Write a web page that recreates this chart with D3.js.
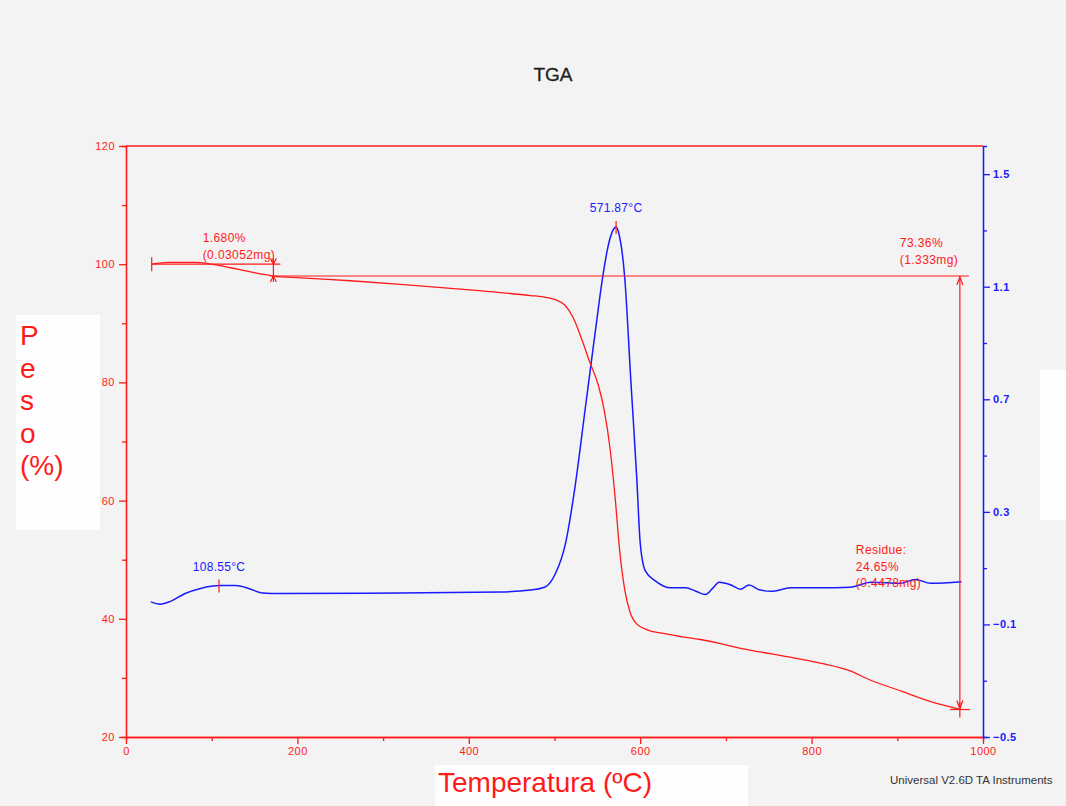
<!DOCTYPE html>
<html>
<head>
<meta charset="utf-8">
<script src="https://cdnjs.cloudflare.com/ajax/libs/d3/7.8.5/d3.min.js"></script>
<style>
  body { margin: 0; background: #f3f3f3; overflow: hidden; }
  text { font-family: "Liberation Sans", Arial, sans-serif; }
</style>
</head>
<body>
<div class="chart"></div>
<script>
// Data
// ==============================
// weight curve (red, left axis)
var tgaTemp = [30, 50, 80, 100, 122, 145, 172, 204, 262, 320, 379, 437, 472, 490, 501, 512, 522, 532, 541, 551, 558, 565, 571, 576, 582, 588, 596, 609, 624, 647, 670, 694, 717, 740, 775, 810, 845, 869, 904, 939, 975];
var tgaWeight = [100.0, 100.3, 100.3, 100.0, 99.4, 98.7, 98.0, 97.7, 97.2, 96.6, 95.9, 95.2, 94.7, 94.4, 94.0, 93.1, 90.9, 87.2, 83.5, 79.6, 75.3, 68.6, 60.1, 51.6, 44.9, 41.2, 39.1, 38.1, 37.6, 37.0, 36.5, 35.8, 35.0, 34.4, 33.5, 32.5, 31.2, 29.6, 27.8, 26.0, 24.65];

// derivative curve (blue, right axis)
var dtgTemp = [29, 40, 52, 69, 87, 110, 128, 143, 159, 180, 320, 437, 472, 489, 501, 513, 524, 536, 548, 556, 563, 569, 572, 575, 582, 589, 596, 600, 606, 618, 635, 653, 665, 676, 685, 692, 706, 717, 727, 740, 755, 775, 810, 845, 869, 904, 921, 939, 975];
var dtgValue = [-0.02, -0.028, -0.018, 0.01, 0.028, 0.038, 0.038, 0.028, 0.012, 0.01, 0.012, 0.015, 0.022, 0.033, 0.08, 0.19, 0.39, 0.67, 0.95, 1.13, 1.25, 1.305, 1.312, 1.29, 1.13, 0.77, 0.42, 0.19, 0.09, 0.054, 0.03, 0.03, 0.018, 0.006, 0.03, 0.05, 0.04, 0.025, 0.04, 0.022, 0.018, 0.03, 0.03, 0.032, 0.05, 0.046, 0.06, 0.046, 0.052];

// tick values
var xMajorTicks = [0, 200, 400, 600, 800, 1000];
var xMinorTicks = [100, 300, 500, 700, 900];
var yLeftMajorTicks = [20, 40, 60, 80, 100, 120];
var yLeftMinorTicks = [30, 50, 70, 90, 110];
var yRightMajorTicks = [-0.5, -0.1, 0.3, 0.7, 1.1, 1.5];
var yRightMinorTicks = [-0.3, 0.1, 0.5, 0.9, 1.3];

// annotations
var peakTemps = [108.55, 571.87];
var peakValues = [0.038, 1.312];
var peakLabels = ["108.55°C", "571.87°C"];
var stepStartTemp = 30;
var stepArrowTemp = 172;
var startWeight = 100.0;
var plateauWeight = 98.0;
var residueTemp = 973;
var residueWeight = 24.65;
var stepLabels = ["1.680%", "(0.03052mg)"];
var totalLabels = ["73.36%", "(1.333mg)"];
var residueLabels = ["Residue:", "24.65%", "(0.4478mg)"];

var RED = "#ff1a1a";
var BLUE = "#1a1aff";

// Set SVG dimensions
var svgWidth = 1066;
var svgHeight = 806;

var margin = {
  top: 146,
  right: 83,
  bottom: 69,
  left: 126
};

var width = svgWidth - margin.left - margin.right;
var height = svgHeight - margin.top - margin.bottom;

var svg = d3.select(".chart")
  .append("svg")
  .attr("width", svgWidth)
  .attr("height", svgHeight)
  .style("display", "block");

// background and white patches
svg.append("rect")
  .attr("width", svgWidth)
  .attr("height", svgHeight)
  .attr("fill", "#f3f3f3");

svg.append("rect").attr("x", 16).attr("y", 315).attr("width", 84).attr("height", 215).attr("fill", "#fefefe");
svg.append("rect").attr("x", 435).attr("y", 765).attr("width", 313).attr("height", 41).attr("fill", "#fefefe");
svg.append("rect").attr("x", 1040).attr("y", 370).attr("width", 26).attr("height", 150).attr("fill", "#fefefe");

// Title
svg.append("text")
  .attr("x", 553)
  .attr("y", 81)
  .attr("text-anchor", "middle")
  .attr("font-size", "19px")
  .attr("fill", "#1e1e1e")
  .attr("stroke", "#1e1e1e")
  .attr("stroke-width", 0.3)
  .text("TGA");

var chartGroup = svg.append("g")
  .attr("transform", `translate(${margin.left}, ${margin.top})`);

// Create scale functions
// ==============================
var xScale = d3.scaleLinear()
  .domain([0, 1000])
  .range([0, width]);

var yLeft = d3.scaleLinear()
  .domain([20, 120])
  .range([height, 0]);

var yRight = d3.scaleLinear()
  .domain([-0.5, 1.6])
  .range([height, 0]);

// Axes
// ==============================
function styleAxis(g, color, fontSize) {
  g.selectAll("path").attr("stroke", color).attr("stroke-width", 1.3);
  g.selectAll("line").attr("stroke", color).attr("stroke-width", 1.3);
  g.selectAll("text")
    .attr("fill", color)
    .attr("font-size", fontSize)
    .attr("letter-spacing", "0.5px")
    .attr("font-family", "'Liberation Sans', Arial, sans-serif");
}

// top border
chartGroup.append("line")
  .attr("x1", 0).attr("x2", width)
  .attr("y1", 0).attr("y2", 0)
  .attr("stroke", RED)
  .attr("stroke-width", 1.3);

var xAxisMinor = chartGroup.append("g")
  .attr("transform", `translate(0, ${height})`)
  .call(d3.axisBottom(xScale).tickValues(xMinorTicks).tickSize(4).tickFormat(""));
styleAxis(xAxisMinor, RED, "11px");

var xAxis = chartGroup.append("g")
  .attr("transform", `translate(0, ${height})`)
  .call(d3.axisBottom(xScale).tickValues(xMajorTicks).tickSize(7).tickSizeOuter(0).tickPadding(3)
    .tickFormat(d3.format("d")));
styleAxis(xAxis, RED, "11px");

var yLeftMinor = chartGroup.append("g")
  .call(d3.axisLeft(yLeft).tickValues(yLeftMinorTicks).tickSize(4).tickFormat(""));
styleAxis(yLeftMinor, RED, "11px");

var yLeftAxis = chartGroup.append("g")
  .call(d3.axisLeft(yLeft).tickValues(yLeftMajorTicks).tickSize(7).tickSizeOuter(0).tickPadding(4));
styleAxis(yLeftAxis, RED, "11px");

var yRightMinor = chartGroup.append("g")
  .attr("transform", `translate(${width}, 0)`)
  .call(d3.axisRight(yRight).tickValues(yRightMinorTicks).tickSize(4).tickFormat(""));
styleAxis(yRightMinor, BLUE, "11px");

var yRightAxis = chartGroup.append("g")
  .attr("transform", `translate(${width}, 0)`)
  .call(d3.axisRight(yRight).tickValues(yRightMajorTicks).tickSize(7).tickSizeOuter(0).tickPadding(3)
    .tickFormat(d3.format(".1f")));
styleAxis(yRightAxis, BLUE, "11px");
yRightAxis.selectAll("text").attr("font-weight", "bold");

// Curves
// ==============================
var tgaData = tgaTemp.map((t, i) => ({ t: t, v: tgaWeight[i] }));
var dtgData = dtgTemp.map((t, i) => ({ t: t, v: dtgValue[i] }));

var tgaLine = d3.line()
  .x(d => xScale(d.t))
  .y(d => yLeft(d.v))
  .curve(d3.curveMonotoneX);

var dtgLine = d3.line()
  .x(d => xScale(d.t))
  .y(d => yRight(d.v))
  .curve(d3.curveMonotoneX);

chartGroup.append("path")
  .datum(dtgData)
  .attr("d", dtgLine)
  .attr("fill", "none")
  .attr("stroke", BLUE)
  .attr("stroke-width", 1.5);

chartGroup.append("path")
  .datum(tgaData)
  .attr("d", tgaLine)
  .attr("fill", "none")
  .attr("stroke", RED)
  .attr("stroke-width", 1.3);

// Annotations
// ==============================
var ann = chartGroup.append("g")
  .attr("stroke", RED)
  .attr("stroke-width", 1.2)
  .attr("fill", "none");

// starting weight reference
ann.append("line")
  .attr("x1", xScale(stepStartTemp)).attr("x2", xScale(stepArrowTemp) + 7)
  .attr("y1", yLeft(startWeight)).attr("y2", yLeft(startWeight));
ann.append("line")
  .attr("x1", xScale(stepStartTemp)).attr("x2", xScale(stepStartTemp))
  .attr("y1", yLeft(startWeight) - 7).attr("y2", yLeft(startWeight) + 7);

// plateau line
ann.append("line")
  .attr("x1", xScale(stepArrowTemp) - 3).attr("x2", xScale(residueTemp) + 9)
  .attr("y1", yLeft(plateauWeight)).attr("y2", yLeft(plateauWeight));

// small step arrow (pointing at both levels)
var sx = xScale(stepArrowTemp);
ann.append("line").attr("x1", sx).attr("x2", sx).attr("y1", yLeft(startWeight) - 6).attr("y2", yLeft(plateauWeight) + 6);
ann.append("path").attr("d", `M${sx - 3},${yLeft(startWeight) - 6} L${sx},${yLeft(startWeight)} L${sx + 3},${yLeft(startWeight) - 6}`);
ann.append("path").attr("d", `M${sx - 3},${yLeft(plateauWeight) + 6} L${sx},${yLeft(plateauWeight)} L${sx + 3},${yLeft(plateauWeight) + 6}`);

// total loss arrow
var tx = xScale(residueTemp);
var ty1 = yLeft(plateauWeight);
var ty2 = yLeft(residueWeight);
ann.append("line").attr("x1", tx).attr("x2", tx).attr("y1", ty1).attr("y2", ty2);
ann.append("path").attr("d", `M${tx - 3},${ty1 + 9} L${tx},${ty1 + 1} L${tx + 3},${ty1 + 9}`);
ann.append("path").attr("d", `M${tx - 3},${ty2 - 9} L${tx},${ty2 - 1} L${tx + 3},${ty2 - 9}`);
// residue cross
ann.append("line").attr("x1", tx - 10).attr("x2", tx + 10).attr("y1", ty2).attr("y2", ty2);
ann.append("line").attr("x1", tx).attr("x2", tx).attr("y1", ty2 - 7).attr("y2", ty2 + 8);

// peak markers
peakTemps.forEach(function (t, i) {
  var px = xScale(t);
  var py = yRight(peakValues[i]);
  ann.append("line").attr("x1", px).attr("x2", px).attr("y1", py - 6).attr("y2", py + 7);
  chartGroup.append("text")
    .attr("x", px)
    .attr("y", py - 15)
    .attr("text-anchor", "middle")
    .attr("font-size", "12px")
    .attr("letter-spacing", "0.3px")
    .attr("fill", BLUE)
    .text(peakLabels[i]);
});

// annotation text blocks
function textBlock(lines, x, y, lineHeight) {
  lines.forEach(function (s, i) {
    chartGroup.append("text")
      .attr("x", x)
      .attr("y", y + i * lineHeight)
      .attr("font-size", "12px")
      .attr("letter-spacing", "0.4px")
      .attr("fill", RED)
      .text(s);
  });
}
textBlock(stepLabels, xScale(stepStartTemp) + 51, yLeft(startWeight) - 22, 17);
textBlock(totalLabels, xScale(residueTemp) - 60, yLeft(plateauWeight) - 29, 17);
textBlock(residueLabels, xScale(residueTemp) - 104, yRight(0.05) - 28, 16.5);

// Axis labels
// ==============================
svg.append("text")
  .attr("x", 438)
  .attr("y", 792)
  .attr("font-size", "28px")
  .attr("fill", RED)
  .text("Temperatura (ºC)");

var pesoLetters = ["P", "e", "s", "o", "(%)"];
svg.selectAll(".peso")
  .data(pesoLetters)
  .enter()
  .append("text")
  .attr("class", "peso")
  .attr("x", 20)
  .attr("y", (d, i) => 345 + i * 32.5)
  .attr("font-size", "28px")
  .attr("fill", RED)
  .text(d => d);

svg.append("text")
  .attr("x", 890)
  .attr("y", 784)
  .attr("font-size", "11.5px")
  .attr("fill", "#333")
  .text("Universal V2.6D TA Instruments");
</script>
</body>
</html>
